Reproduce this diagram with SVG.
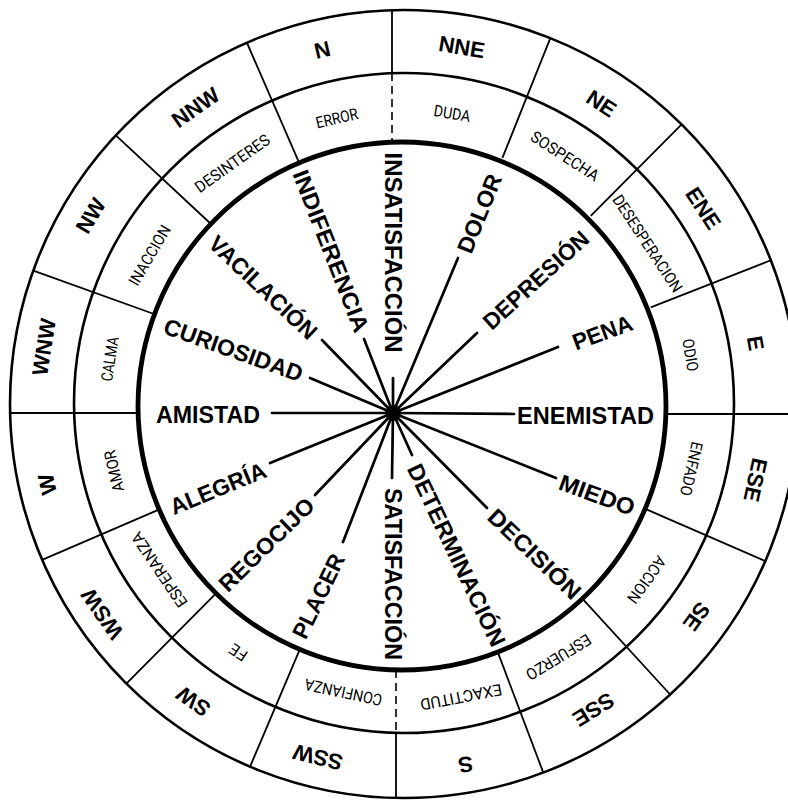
<svg xmlns="http://www.w3.org/2000/svg" width="788" height="800" viewBox="0 0 788 800">
<style>
.ring{fill:none;stroke:#000;stroke-width:2.6}
.thick{fill:none;stroke:#000;stroke-width:4.8}
.div{stroke:#000;stroke-width:1.8;fill:none}
.dash{stroke:#000;stroke-width:1.6;stroke-dasharray:8 5}
.spoke{stroke:#000;stroke-width:2.7;stroke-linecap:round}
.big{font-family:"Liberation Sans",Arial,sans-serif;font-weight:bold;font-size:23px;text-anchor:middle;fill:#000}
.dir{font-family:"Liberation Sans",Arial,sans-serif;font-weight:bold;font-size:22px;text-anchor:middle;fill:#000}
.mid{font-family:"Roboto","Liberation Sans",Arial,sans-serif;font-weight:400;font-size:16px;text-anchor:middle;fill:#000}
</style>
<rect width="788" height="800" fill="#fff"/>
<g id="rings">
<circle class="ring" cx="404" cy="404" r="394"/>
<circle class="ring" cx="404" cy="403" r="330"/>
<circle class="thick" cx="402" cy="406" r="264"/>
</g>
<g id="dividers">
<g transform="translate(404 404)">
<line class="div" x1="0" y1="-265" x2="0" y2="-394" transform="rotate(-23.5)"/>
<line class="div" x1="0" y1="-265" x2="0" y2="-394" transform="rotate(21.8)"/>
<line class="div" x1="0" y1="-265" x2="0" y2="-394" transform="rotate(44.8)"/>
<line class="div" x1="0" y1="-265" x2="0" y2="-394" transform="rotate(68.6)"/>
<line class="div" x1="0" y1="-265" x2="0" y2="-394" transform="rotate(113.5)"/>
<line class="div" x1="0" y1="-265" x2="0" y2="-394" transform="rotate(137.5)"/>
<line class="div" x1="0" y1="-265" x2="0" y2="-394" transform="rotate(159.3)"/>
<line class="div" x1="0" y1="-265" x2="0" y2="-394" transform="rotate(203)"/>
<line class="div" x1="0" y1="-265" x2="0" y2="-394" transform="rotate(224.8)"/>
<line class="div" x1="0" y1="-265" x2="0" y2="-394" transform="rotate(246.7)"/>
<line class="div" x1="0" y1="-265" x2="0" y2="-394" transform="rotate(289.8)"/>
<line class="div" x1="0" y1="-265" x2="0" y2="-394" transform="rotate(313)"/>
</g>
<line class="div" x1="392" y1="10" x2="392" y2="73"/>
<line class="dash" x1="392" y1="73" x2="392" y2="142"/>
<line class="dash" x1="396" y1="670" x2="396" y2="733"/>
<line class="div" x1="396" y1="733" x2="396" y2="798"/>
<line class="div" x1="10" y1="413" x2="139" y2="413"/>
<line class="div" x1="665" y1="414" x2="788" y2="414"/>
</g>
<g id="connectors">
<line class="spoke" x1="393" y1="413" x2="393" y2="378"/>
<line class="spoke" x1="393" y1="413" x2="458" y2="258"/>
<line class="spoke" x1="393" y1="413" x2="477" y2="333"/>
<line class="spoke" x1="393" y1="413" x2="558" y2="347"/>
<line class="spoke" x1="393" y1="413" x2="514" y2="414"/>
<line class="spoke" x1="393" y1="413" x2="556" y2="478"/>
<line class="spoke" x1="393" y1="413" x2="487" y2="508"/>
<line class="spoke" x1="393" y1="413" x2="412" y2="455"/>
<line class="spoke" x1="393" y1="413" x2="392" y2="478"/>
<line class="spoke" x1="393" y1="413" x2="343" y2="542"/>
<line class="spoke" x1="393" y1="413" x2="315" y2="495"/>
<line class="spoke" x1="393" y1="413" x2="270" y2="463"/>
<line class="spoke" x1="393" y1="413" x2="272" y2="413"/>
<line class="spoke" x1="393" y1="413" x2="310" y2="378"/>
<line class="spoke" x1="393" y1="413" x2="322" y2="340"/>
<line class="spoke" x1="393" y1="413" x2="364" y2="339"/>
<circle cx="393" cy="413" r="8" fill="#000"/>
</g>
<g id="e-insatisfaccion"><text class="big" transform="translate(393 252.5) rotate(90)" y="8" textLength="200" lengthAdjust="spacingAndGlyphs">INSATISFACCIÓN</text></g>
<g id="e-dolor"><text class="big" transform="translate(479.5 213.5) rotate(-68)" y="8" textLength="83" lengthAdjust="spacingAndGlyphs">DOLOR</text></g>
<g id="e-depresion"><text class="big" transform="translate(536 280) rotate(-42.3)" y="8" textLength="134" lengthAdjust="spacingAndGlyphs">DEPRESIÓN</text></g>
<g id="e-pena"><text class="big" transform="translate(602.5 332.5) rotate(-20)" y="8" textLength="62" lengthAdjust="spacingAndGlyphs">PENA</text></g>
<g id="e-enemistad"><text class="big" transform="translate(585.5 416)" y="8" textLength="137" lengthAdjust="spacingAndGlyphs">ENEMISTAD</text></g>
<g id="e-miedo"><text class="big" transform="translate(597 495) rotate(20)" y="8" textLength="79" lengthAdjust="spacingAndGlyphs">MIEDO</text></g>
<g id="e-decision"><text class="big" transform="translate(534.5 554) rotate(43.8)" y="8" textLength="119" lengthAdjust="spacingAndGlyphs">DECISIÓN</text></g>
<g id="e-determinacion"><text class="big" transform="translate(456.5 555) rotate(64.6)" y="8" textLength="199" lengthAdjust="spacingAndGlyphs">DETERMINACIÓN</text></g>
<g id="e-satisfaccion"><text class="big" transform="translate(393 574) rotate(90)" y="8" textLength="172" lengthAdjust="spacingAndGlyphs">SATISFACCIÓN</text></g>
<g id="e-placer"><text class="big" transform="translate(318.5 596) rotate(-64.1)" y="8" textLength="91" lengthAdjust="spacingAndGlyphs">PLACER</text></g>
<g id="e-regocijo"><text class="big" transform="translate(266.5 544.5) rotate(-44.3)" y="8" textLength="123" lengthAdjust="spacingAndGlyphs">REGOCIJO</text></g>
<g id="e-alegria"><text class="big" transform="translate(218 488.5) rotate(-22.4)" y="8" textLength="102" lengthAdjust="spacingAndGlyphs">ALEGRÍA</text></g>
<g id="e-amistad"><text class="big" transform="translate(208 414.5)" y="8" textLength="104" lengthAdjust="spacingAndGlyphs">AMISTAD</text></g>
<g id="e-curiosidad"><text class="big" transform="translate(233.5 350) rotate(19.7)" y="8" textLength="146" lengthAdjust="spacingAndGlyphs">CURIOSIDAD</text></g>
<g id="e-vacilacion"><text class="big" transform="translate(263 287.5) rotate(43.4)" y="8" textLength="139" lengthAdjust="spacingAndGlyphs">VACILACIÓN</text></g>
<g id="e-indiferencia"><text class="big" transform="translate(331 251) rotate(68.6)" y="8" textLength="172" lengthAdjust="spacingAndGlyphs">INDIFERENCIA</text></g>
<g id="middle-ring">
<g id="m-error" transform="translate(404 404) rotate(-13.2)"><text class="mid" y="-294" dy="6" textLength="43" lengthAdjust="spacingAndGlyphs">ERROR</text></g>
<g id="m-duda" transform="translate(404 404) rotate(9.4)"><text class="mid" y="-295" dy="6" textLength="37" lengthAdjust="spacingAndGlyphs">DUDA</text></g>
<g id="m-sospecha" transform="translate(404 404) rotate(33)"><text class="mid" y="-296" dy="6" textLength="78" lengthAdjust="spacingAndGlyphs">SOSPECHA</text></g>
<g id="m-desesperacion" transform="translate(404 404) rotate(56.6)"><text class="mid" y="-292" dy="6" textLength="113" lengthAdjust="spacingAndGlyphs">DESESPERACION</text></g>
<g id="m-odio" transform="translate(404 404) rotate(80.3)"><text class="mid" y="-291" dy="6" textLength="33" lengthAdjust="spacingAndGlyphs">ODIO</text></g>
<g id="m-enfado" transform="translate(404 404) rotate(102.7)"><text class="mid" y="-295" dy="6" textLength="55" lengthAdjust="spacingAndGlyphs">ENFADO</text></g>
<g id="m-accion" transform="translate(404 404) rotate(125.9)"><text class="mid" y="-300" dy="6" textLength="54" lengthAdjust="spacingAndGlyphs">ACCION</text></g>
<g id="m-esfuerzo" transform="translate(404 404) rotate(148.6)"><text class="mid" y="-297" dy="6" textLength="73" lengthAdjust="spacingAndGlyphs">ESFUERZO</text></g>
<g id="m-exactitud" transform="translate(404 404) rotate(169)"><text class="mid" y="-299" dy="6" textLength="83" lengthAdjust="spacingAndGlyphs">EXACTITUD</text></g>
<g id="m-confianza" transform="translate(404 404) rotate(191.9)"><text class="mid" y="-295" dy="6" textLength="79" lengthAdjust="spacingAndGlyphs">CONFIANZA</text></g>
<g id="m-fe" transform="translate(404 404) rotate(213.7)"><text class="mid" y="-299" dy="6" textLength="18" lengthAdjust="spacingAndGlyphs">FE</text></g>
<g id="m-esperanza" transform="translate(404 404) rotate(235.9)"><text class="mid" y="-296" dy="6" textLength="87" lengthAdjust="spacingAndGlyphs">ESPERANZA</text></g>
<g id="m-amor" transform="translate(404 404) rotate(257)"><text class="mid" y="-298" dy="6" textLength="42" lengthAdjust="spacingAndGlyphs">AMOR</text></g>
<g id="m-calma" transform="translate(404 404) rotate(278.7)"><text class="mid" y="-298" dy="6" textLength="45" lengthAdjust="spacingAndGlyphs">CALMA</text></g>
<g id="m-inaccion" transform="translate(404 404) rotate(300.3)"><text class="mid" y="-295" dy="6" textLength="67" lengthAdjust="spacingAndGlyphs">INACCION</text></g>
<g id="m-desinteres" transform="translate(404 404) rotate(324.5)"><text class="mid" y="-296" dy="6" textLength="88" lengthAdjust="spacingAndGlyphs">DESINTERES</text></g>
</g>
<g id="outer-ring">
<g id="d-n" transform="translate(404 404) rotate(-13)"><text class="dir" y="-364" dy="8">N</text></g>
<g id="d-nne" transform="translate(404 404) rotate(9.2)"><text class="dir" y="-362" dy="8">NNE</text></g>
<g id="d-ne" transform="translate(404 404) rotate(33.3)"><text class="dir" y="-360" dy="8">NE</text></g>
<g id="d-ene" transform="translate(404 404) rotate(56.8)"><text class="dir" y="-358" dy="8">ENE</text></g>
<g id="d-e" transform="translate(404 404) rotate(80.2)"><text class="dir" y="-357" dy="8">E</text></g>
<g id="d-ese" transform="translate(404 404) rotate(102.2)"><text class="dir" y="-360" dy="8">ESE</text></g>
<g id="d-se" transform="translate(404 404) rotate(126)"><text class="dir" y="-362" dy="8">SE</text></g>
<g id="d-sse" transform="translate(404 404) rotate(148.2)"><text class="dir" y="-360" dy="8">SSE</text></g>
<g id="d-s" transform="translate(404 404) rotate(170.3)"><text class="dir" y="-366" dy="8">S</text></g>
<g id="d-ssw" transform="translate(404 404) rotate(193.7)"><text class="dir" y="-364" dy="8">SSW</text></g>
<g id="d-sw" transform="translate(404 404) rotate(215.3)"><text class="dir" y="-365" dy="8">SW</text></g>
<g id="d-wsw" transform="translate(404 404) rotate(235.2)"><text class="dir" y="-368" dy="8">WSW</text></g>
<g id="d-w" transform="translate(404 404) rotate(257.3)"><text class="dir" y="-366" dy="8">W</text></g>
<g id="d-wnw" transform="translate(404 404) rotate(279)"><text class="dir" y="-365" dy="8">WNW</text></g>
<g id="d-nw" transform="translate(404 404) rotate(301)"><text class="dir" y="-366" dy="8">NW</text></g>
<g id="d-nnw" transform="translate(404 404) rotate(324.9)"><text class="dir" y="-363" dy="8">NNW</text></g>
</g>
</svg>
